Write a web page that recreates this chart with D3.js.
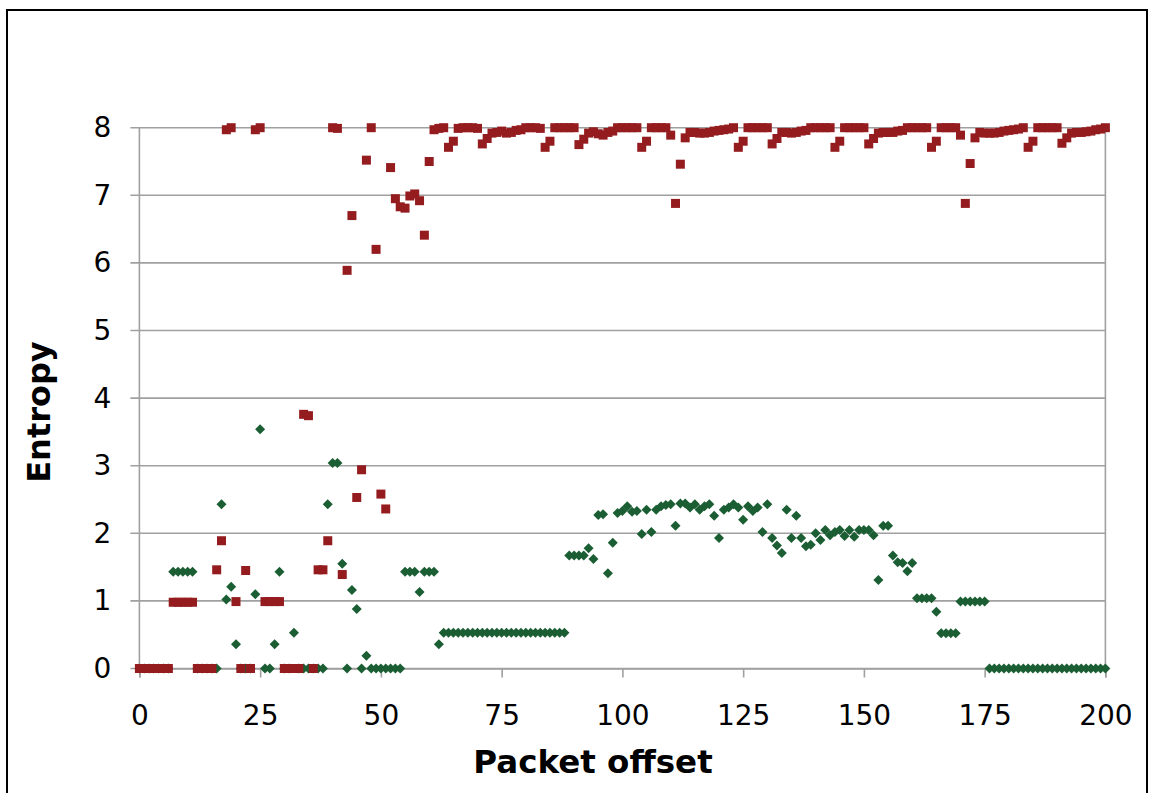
<!DOCTYPE html>
<html>
<head>
<meta charset="utf-8">
<script src="https://cdn.jsdelivr.net/npm/d3@7/dist/d3.min.js"></script>
<style>
  html, body { margin: 0; padding: 0; background: #fff; }
  svg { display: block; }
</style>
</head>
<body>
<svg id="chart" width="1152" height="793"></svg>
<script>
// tick labels
var xTicks = [0, 25, 50, 75, 100, 125, 150, 175, 200];
var yTicks = [0, 1, 2, 3, 4, 5, 6, 7, 8];

// red squares, one value per packet offset 0..200
var redEntropy = [
  0, 0, 0, 0, 0, 0, 0, 0.98, 0.98, 0.98,                      // 0-9
  0.98, 0.98, 0, 0, 0, 0, 1.46, 1.89, 7.97, 8.0,              // 10-19
  0.99, 0, 1.45, 0, 7.97, 8.0, 0.99, 0.99, 0.99, 0.99,        // 20-29
  0, 0, 0, 0, 3.76, 3.74, 0, 1.46, 1.46, 1.89,                // 30-39
  8.0, 7.99, 1.39, 5.89, 6.70, 2.53, 2.94, 7.52, 8.0, 6.20,   // 40-49
  2.58, 2.36, 7.41, 6.95, 6.83, 6.81, 6.99, 7.02, 6.92, 6.41, // 50-59
  7.50, 7.97, 7.99, 8.0, 7.71, 7.80, 7.99, 8.0, 8.0, 8.0,     // 60-69
  7.99, 7.76, 7.84, 7.92, 7.93, 7.95, 7.92, 7.93, 7.96, 7.97, // 70-79
  8.0, 8.0, 8.0, 7.99, 7.71, 7.80, 8.0, 8.0, 8.0, 8.0,        // 80-89
  8.0, 7.75, 7.83, 7.92, 7.94, 7.91, 7.89, 7.93, 7.95, 8.0,   // 90-99
  8.0, 8.0, 8.0, 8.0, 7.71, 7.80, 8.0, 8.0, 8.0, 8.0,         // 100-109
  7.89, 6.88, 7.46, 7.85, 7.93, 7.93, 7.92, 7.92, 7.93, 7.95, // 110-119
  7.96, 7.97, 7.98, 8.0, 7.71, 7.80, 8.0, 8.0, 8.0, 8.0,      // 120-129
  8.0, 7.76, 7.84, 7.93, 7.93, 7.92, 7.93, 7.95, 7.96, 8.0,   // 130-139
  8.0, 8.0, 8.0, 8.0, 7.71, 7.80, 8.0, 8.0, 8.0, 8.0,         // 140-149
  8.0, 7.76, 7.84, 7.92, 7.93, 7.93, 7.93, 7.95, 7.96, 8.0,   // 150-159
  8.0, 8.0, 8.0, 8.0, 7.71, 7.80, 8.0, 8.0, 8.0, 8.0,         // 160-169
  7.89, 6.88, 7.47, 7.85, 7.93, 7.92, 7.92, 7.92, 7.93, 7.95, // 170-179
  7.96, 7.97, 7.98, 8.0, 7.71, 7.80, 8.0, 8.0, 8.0, 8.0,      // 180-189
  8.0, 7.77, 7.85, 7.92, 7.93, 7.93, 7.94, 7.95, 7.97, 7.98,  // 190-199
  8.0                                                         // 200
];

// green diamonds, one value per packet offset 0..200
var greenEntropy = [
  0, 0, 0, 0, 0, 0, 0, 1.43, 1.43, 1.43,                      // 0-9
  1.43, 1.43, 0, 0, 0, 0, 0, 2.43, 1.02, 1.21,                // 10-19
  0.36, 0, 0, 0, 1.10, 3.54, 0, 0, 0.36, 1.43,                // 20-29
  0, 0, 0.53, 0, 0, 0, 0, 0, 0, 2.43,                         // 30-39
  3.04, 3.04, 1.55, 0, 1.16, 0.88, 0, 0.19, 0, 0,             // 40-49
  0, 0, 0, 0, 0, 1.43, 1.43, 1.43, 1.13, 1.43,                // 50-59
  1.43, 1.43, 0.36, 0.53, 0.53, 0.53, 0.53, 0.53, 0.53, 0.53, // 60-69
  0.53, 0.53, 0.53, 0.53, 0.53, 0.53, 0.53, 0.53, 0.53, 0.53, // 70-79
  0.53, 0.53, 0.53, 0.53, 0.53, 0.53, 0.53, 0.53, 0.53, 1.67, // 80-89
  1.67, 1.67, 1.67, 1.78, 1.62, 2.27, 2.28, 1.41, 1.86, 2.30, // 90-99
  2.33, 2.40, 2.32, 2.33, 1.99, 2.35, 2.02, 2.35, 2.40, 2.42, // 100-109
  2.43, 2.11, 2.44, 2.44, 2.38, 2.43, 2.35, 2.40, 2.43, 2.26, // 110-119
  1.93, 2.35, 2.38, 2.43, 2.38, 2.20, 2.40, 2.33, 2.38, 2.02, // 120-129
  2.43, 1.93, 1.82, 1.71, 2.35, 1.93, 2.26, 1.93, 1.81, 1.83, // 130-139
  2.00, 1.90, 2.05, 1.97, 2.02, 2.05, 1.96, 2.05, 1.95, 2.05, // 140-149
  2.05, 2.05, 1.97, 1.31, 2.11, 2.11, 1.67, 1.57, 1.56, 1.44, // 150-159
  1.56, 1.04, 1.04, 1.04, 1.04, 0.84, 0.52, 0.52, 0.52, 0.52, // 160-169
  0.99, 0.99, 0.99, 0.99, 0.99, 0.99, 0, 0, 0, 0,             // 170-179
  0, 0, 0, 0, 0, 0, 0, 0, 0, 0,                               // 180-189
  0, 0, 0, 0, 0, 0, 0, 0, 0, 0,                               // 190-199
  0                                                           // 200
];

var redColor = "#941c1f";
var greenColor = "#1b5e33";
var gridColor = "#a0a0a0";
var fontFamily = "Verdana, 'DejaVu Sans', sans-serif";

var svg = d3.select("#chart");

// outer frame
svg.append("rect")
  .attr("x", 7).attr("y", 10)
  .attr("width", 1140).attr("height", 800)
  .attr("fill", "none")
  .attr("stroke", "#000")
  .attr("stroke-width", 2);

var x = d3.scaleLinear().domain([0, 200]).range([139.4, 1105.4]);
var y = d3.scaleLinear().domain([0, 8]).range([668.5, 127.7]);

// horizontal gridlines (they run out past the axis as the tick marks)
svg.append("g")
  .selectAll("line")
  .data(yTicks)
  .join("line")
  .attr("x1", x(0) - 9)
  .attr("x2", x(200))
  .attr("y1", d => y(d))
  .attr("y2", d => y(d))
  .attr("stroke", gridColor)
  .attr("stroke-width", 1.6);

// left and right plot borders
svg.append("g")
  .selectAll("line")
  .data([0, 200])
  .join("line")
  .attr("x1", d => x(d)).attr("x2", d => x(d))
  .attr("y1", y(8)).attr("y2", y(0))
  .attr("stroke", gridColor)
  .attr("stroke-width", 1.6);

// x axis
var xAxis = d3.axisBottom(x).tickValues(xTicks).tickSize(9).tickPadding(28);
var gx = svg.append("g")
  .attr("transform", `translate(0, ${y(0)})`)
  .call(xAxis);
gx.select(".domain").attr("stroke", gridColor).attr("stroke-width", 1.6);
gx.selectAll(".tick line").attr("stroke", gridColor).attr("stroke-width", 1.6);
gx.selectAll(".tick text")
  .attr("fill", "#000")
  .style("font-family", fontFamily)
  .style("font-size", "28px");

// y axis labels
var yAxis = d3.axisLeft(y).tickValues(yTicks).tickSize(0).tickPadding(28);
var gy = svg.append("g")
  .attr("transform", `translate(${x(0)}, 0)`)
  .call(yAxis);
gy.select(".domain").remove();
gy.selectAll(".tick text")
  .attr("fill", "#000")
  .style("font-family", fontFamily)
  .style("font-size", "28px");

// axis titles
svg.append("text")
  .attr("x", 593)
  .attr("y", 773)
  .attr("text-anchor", "middle")
  .style("font-family", fontFamily)
  .style("font-weight", "bold")
  .style("font-size", "32.5px")
  .text("Packet offset");

svg.append("text")
  .attr("transform", "translate(50, 412) rotate(-90)")
  .attr("text-anchor", "middle")
  .style("font-family", fontFamily)
  .style("font-weight", "bold")
  .style("font-size", "32px")
  .text("Entropy");

// green diamonds first, red squares drawn over them
var diamond = d3.symbol().type(d3.symbolSquare).size(50);
svg.append("g")
  .selectAll("path")
  .data(greenEntropy)
  .join("path")
  .attr("d", diamond)
  .attr("transform", (d, i) => `translate(${x(i)}, ${y(d)}) rotate(45)`)
  .attr("fill", greenColor);

var square = d3.symbol().type(d3.symbolSquare).size(81);
svg.append("g")
  .selectAll("path")
  .data(redEntropy)
  .join("path")
  .attr("d", square)
  .attr("transform", (d, i) => `translate(${x(i)}, ${y(d)})`)
  .attr("fill", redColor);
</script>
</body>
</html>
